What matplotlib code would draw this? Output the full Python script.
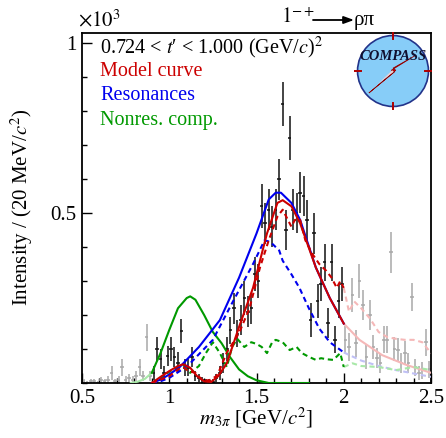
import numpy as np
import matplotlib.pyplot as plt
from matplotlib.patches import Circle, Polygon

plt.rcParams['font.family'] = ['Liberation Serif', 'DejaVu Serif']
plt.rcParams['mathtext.fontset'] = 'stix'

# 20 MeV bins, 0.5 - 2.5 GeV
mass = np.arange(0.51, 2.5, 0.02)
intens = np.array([
    0.005, 0.0, 0.005, 0.005, 0.0, 0.008, 0.005, 0.01, 0.03, 0.005,
    0.01, 0.047, 0.01, 0.015, 0.01, 0.02, 0.047, 0.02, 0.135, 0.02,
    0.03, 0.10, 0.07, 0.03, 0.08, 0.10, 0.077, 0.06, 0.153, 0.045,
    0.045, 0.077, 0.02, 0.015, 0.008, 0.005, 0.005, 0.003, 0.015, 0.03,
    0.058, 0.10, 0.155, 0.22, 0.145, 0.185, 0.25, 0.21, 0.22, 0.32,
    0.30, 0.52, 0.47, 0.51, 0.46, 0.51, 0.60, 0.82, 0.45, 0.72,
    0.51, 0.50, 0.56, 0.55, 0.48, 0.185, 0.44, 0.24, 0.29, 0.355,
    0.176, 0.355, 0.127, 0.24, 0.29, 0.127, 0.106, 0.26, 0.117, 0.30,
    0.23, 0.077, 0.20, 0.106, 0.074, 0.058, 0.127, 0.127, 0.385, 0.10,
    0.097, 0.058, 0.088, 0.058, 0.253, 0.047, 0.03, 0.038, 0.12, 0.04])
errs = np.array([
    0.008, 0.006, 0.008, 0.008, 0.006, 0.01, 0.008, 0.01, 0.02, 0.008,
    0.01, 0.025, 0.01, 0.012, 0.01, 0.015, 0.025, 0.015, 0.04, 0.015,
    0.02, 0.035, 0.03, 0.02, 0.03, 0.035, 0.03, 0.03, 0.035, 0.025,
    0.025, 0.03, 0.015, 0.012, 0.01, 0.008, 0.008, 0.008, 0.012, 0.02,
    0.03, 0.035, 0.04, 0.045, 0.04, 0.045, 0.05, 0.045, 0.045, 0.05,
    0.05, 0.065, 0.06, 0.06, 0.06, 0.06, 0.06, 0.065, 0.06, 0.065,
    0.06, 0.06, 0.06, 0.06, 0.06, 0.05, 0.06, 0.05, 0.05, 0.055,
    0.045, 0.055, 0.04, 0.05, 0.05, 0.04, 0.04, 0.05, 0.04, 0.05,
    0.045, 0.035, 0.045, 0.035, 0.03, 0.03, 0.04, 0.04, 0.06, 0.035,
    0.035, 0.03, 0.035, 0.03, 0.04, 0.025, 0.02, 0.025, 0.04, 0.025])

# model curve (fit range) and extrapolation
red_m = [0.90, 0.95, 1.00, 1.05, 1.08, 1.12, 1.16, 1.20, 1.24, 1.28, 1.33, 1.40, 1.48, 1.56, 1.62, 1.65, 1.70, 1.75, 1.84, 1.92, 2.00]
red_i = [0.0, 0.018, 0.035, 0.05, 0.055, 0.045, 0.02, 0.005, 0.003, 0.02, 0.058, 0.165, 0.28, 0.44, 0.53, 0.538, 0.52, 0.47, 0.34, 0.25, 0.175]
red_ext_m = [2.00, 2.09, 2.22, 2.36, 2.50]
red_ext_i = [0.175, 0.127, 0.082, 0.053, 0.03]

# resonances
blue_m = [0.90, 0.95, 1.00, 1.06, 1.17, 1.29, 1.40, 1.50, 1.57, 1.61, 1.64, 1.70, 1.75, 1.84, 1.92, 2.00]
blue_i = [0.0, 0.01, 0.025, 0.047, 0.106, 0.185, 0.31, 0.44, 0.54, 0.56, 0.56, 0.53, 0.48, 0.34, 0.25, 0.175]

bdash_m = [0.90, 0.95, 1.00, 1.06, 1.12, 1.18, 1.25, 1.36, 1.48, 1.546, 1.58, 1.63, 1.65, 1.70, 1.746, 1.80, 1.86, 1.92, 2.00]
bdash_i = [0.0, 0.005, 0.015, 0.035, 0.058, 0.09, 0.127, 0.235, 0.35, 0.42, 0.415, 0.39, 0.36, 0.32, 0.28, 0.22, 0.16, 0.12, 0.09]
bdash_ext_m = [2.00, 2.10, 2.20, 2.30, 2.40, 2.50]
bdash_ext_i = [0.09, 0.066, 0.05, 0.038, 0.028, 0.018]

rdash_m = [0.90, 0.95, 1.00, 1.05, 1.08, 1.11, 1.15, 1.19, 1.23, 1.27, 1.29, 1.33, 1.35, 1.40, 1.46, 1.52, 1.57, 1.62, 1.65, 1.68, 1.70, 1.72, 1.75, 1.78, 1.82, 1.86, 1.90, 1.93, 1.96, 1.98, 2.00]
rdash_i = [0.0, 0.01, 0.02, 0.04, 0.047, 0.035, 0.03, 0.008, 0.008, 0.02, 0.04, 0.09, 0.106, 0.147, 0.22, 0.34, 0.42, 0.49, 0.51, 0.48, 0.46, 0.48, 0.48, 0.42, 0.38, 0.35, 0.33, 0.31, 0.28, 0.30, 0.28]
rdash_ext_m = [2.00, 2.03, 2.06, 2.10, 2.15, 2.20, 2.25, 2.30, 2.35, 2.40, 2.45, 2.50]
rdash_ext_i = [0.28, 0.21, 0.24, 0.22, 0.19, 0.15, 0.135, 0.13, 0.127, 0.127, 0.12, 0.088]

# non-resonant component
green_m = [0.90, 0.95, 1.00, 1.05, 1.10, 1.12, 1.15, 1.20, 1.25, 1.30, 1.35, 1.40, 1.45, 1.50, 1.57, 1.70, 1.80]
green_i = [0.03, 0.088, 0.156, 0.22, 0.25, 0.255, 0.245, 0.2, 0.15, 0.117, 0.075, 0.04, 0.02, 0.008, 0.0, 0.0, 0.0]
green_ext_m = [0.78, 0.82, 0.86, 0.90]
green_ext_i = [0.0, 0.004, 0.012, 0.03]

gdash_m = [0.90, 0.95, 1.02, 1.08, 1.12, 1.17, 1.21, 1.25, 1.29, 1.33, 1.36, 1.39, 1.43, 1.47, 1.50, 1.53, 1.56, 1.59, 1.61, 1.65, 1.69, 1.73, 1.76, 1.80, 1.84, 1.87, 1.90, 1.94, 1.98, 2.00]
gdash_i = [0.0, 0.015, 0.04, 0.05, 0.03, 0.05, 0.088, 0.12, 0.088, 0.047, 0.106, 0.13, 0.106, 0.12, 0.115, 0.106, 0.088, 0.12, 0.127, 0.12, 0.097, 0.106, 0.088, 0.077, 0.068, 0.073, 0.07, 0.068, 0.088, 0.047]
gdash_ext_m = [2.00, 2.05, 2.10, 2.20, 2.30, 2.40, 2.50]
gdash_ext_i = [0.047, 0.058, 0.05, 0.047, 0.038, 0.047, 0.038]

RED = '#cc0000'
BLUE = '#0000ee'
GREEN = '#009900'

W, H = 446, 438
fig = plt.figure(figsize=(W / 100, H / 100), dpi=100)
ax = fig.add_axes([82 / W, 55 / H, 349 / W, 350 / H])

inr = (mass > 0.9) & (mass < 2.0)
ax.errorbar(mass[~inr], intens[~inr], yerr=errs[~inr], xerr=0.01, fmt='none',
            ecolor='#a8a8a8', elinewidth=1.1, capsize=0, zorder=2)
ax.errorbar(mass[inr], intens[inr], yerr=errs[inr], xerr=0.01, fmt='none',
            ecolor='#111111', elinewidth=1.1, capsize=0, zorder=2)

dash = (0, (2.5, 1.8))
ax.plot(red_ext_m, red_ext_i, color='#f5b8b8', lw=1.5, zorder=3)
ax.plot(rdash_ext_m, rdash_ext_i, color='#f5b8b8', lw=1.5, ls=dash, zorder=3)
ax.plot(bdash_ext_m, bdash_ext_i, color='#c0c0f5', lw=1.5, ls=dash, zorder=3)
ax.plot(gdash_ext_m, gdash_ext_i, color='#a8e8a8', lw=1.5, ls=dash, zorder=3)
ax.plot(green_ext_m, green_ext_i, color='#a8e8a8', lw=1.5, zorder=3)

ax.plot(gdash_m, gdash_i, color=GREEN, lw=1.5, ls=dash, zorder=4)
ax.plot(green_m, green_i, color=GREEN, lw=1.5, zorder=4)
ax.plot(bdash_m, bdash_i, color=BLUE, lw=1.5, ls=dash, zorder=4)
ax.plot(blue_m, blue_i, color=BLUE, lw=1.5, zorder=4)
ax.plot(rdash_m, rdash_i, color=RED, lw=1.5, ls=dash, zorder=5)
ax.plot(red_m, red_i, color=RED, lw=1.5, zorder=5)

ax.set_xlim(0.5, 2.5)
ax.set_ylim(0, 1.03)
ax.set_xticks([0.5, 1.0, 1.5, 2.0, 2.5])
ax.set_xticklabels(['0.5', '1', '1.5', '2', '2.5'])
ax.set_xticks(np.arange(0.5, 2.51, 0.1), minor=True)
ax.set_yticks([0.5, 1.0])
ax.set_yticklabels(['0.5', '1'])
ax.set_yticks(np.arange(0.0, 1.01, 0.1), minor=True)
ax.tick_params(which='both', direction='in', top=False, right=False,
               labelsize=15, width=1.0, pad=4)
ax.tick_params(which='major', length=7.2)
ax.tick_params(which='minor', length=3.6)
for s in ax.spines.values():
    s.set_linewidth(1.3)


def px(x, y):
    return x / W, 1 - y / H


fig.text(*px(256, 418), r'$m_{3\pi}$ [GeV/$c^2$]', ha='center', va='center', fontsize=15)
fig.text(*px(22, 207), r'Intensity / (20 MeV/$c^2$)', rotation=90,
         ha='center', va='center', fontsize=15)
fig.text(*px(78, 21), r'$\times10^{3}$', ha='left', va='center', fontsize=15)

# process label: 1-+ -> rho pi
fig.text(*px(281, 18), r'$1^{-+}$', ha='left', va='center', fontsize=15)
ax.annotate('', xy=px(354, 20), xytext=px(313, 20), xycoords='figure fraction',
            textcoords='figure fraction',
            arrowprops=dict(arrowstyle='-|>,head_length=0.6,head_width=0.22',
                            color='black', lw=1.3, shrinkA=0, shrinkB=0))
fig.text(*px(354, 20), 'ρπ', ha='left', va='center', fontsize=15)

fig.text(*px(100, 48), r"0.724 < $t$′ < 1.000 (GeV/$c$)$^2$", ha='left', va='center', fontsize=14.5)
fig.text(*px(100, 72), 'Model curve', color=RED, ha='left', va='center', fontsize=14.5)
fig.text(*px(100, 96), 'Resonances', color=BLUE, ha='left', va='center', fontsize=14.5)
fig.text(*px(100, 120), 'Nonres. comp.', color=GREEN, ha='left', va='center', fontsize=14.5)

# COMPASS logo
lg = fig.add_axes([354 / W, 1 - 110 / H, 78 / W, 78 / H])
lg.set_xlim(-1.1, 1.1)
lg.set_ylim(-1.1, 1.1)
lg.set_aspect('equal')
lg.axis('off')
lg.add_patch(Circle((0, 0), 1.0, facecolor='#87cdf8', edgecolor='#22338a', lw=1.2))
for (x0, y0, x1, y1) in [(0, 0.9, 0, 1.1), (0, -0.9, 0, -1.1), (-0.9, 0, -1.1, 0), (0.9, 0, 1.1, 0)]:
    lg.plot([x0, x1], [y0, y1], color='#b00000', lw=1.4)
lg.add_patch(Polygon([(-0.68, -0.62), (0.05, -0.02), (-0.05, 0.02), (0.65, 0.45),
                      (0.0, 0.08), (0.08, 0.02)], closed=True,
                     facecolor='#c00000', edgecolor='#900000', lw=0.5))
lg.add_patch(Polygon([(-0.45, -0.38), (0.02, -0.02), (-0.02, 0.02)], closed=True,
                     facecolor='#f0d0d0', edgecolor='none'))
lg.text(0, 0.42, 'COMPASS', ha='center', va='center', fontsize=10.5,
        fontweight='bold', fontstyle='italic', color='#101030')

fig.savefig('out.png', dpi=100)
